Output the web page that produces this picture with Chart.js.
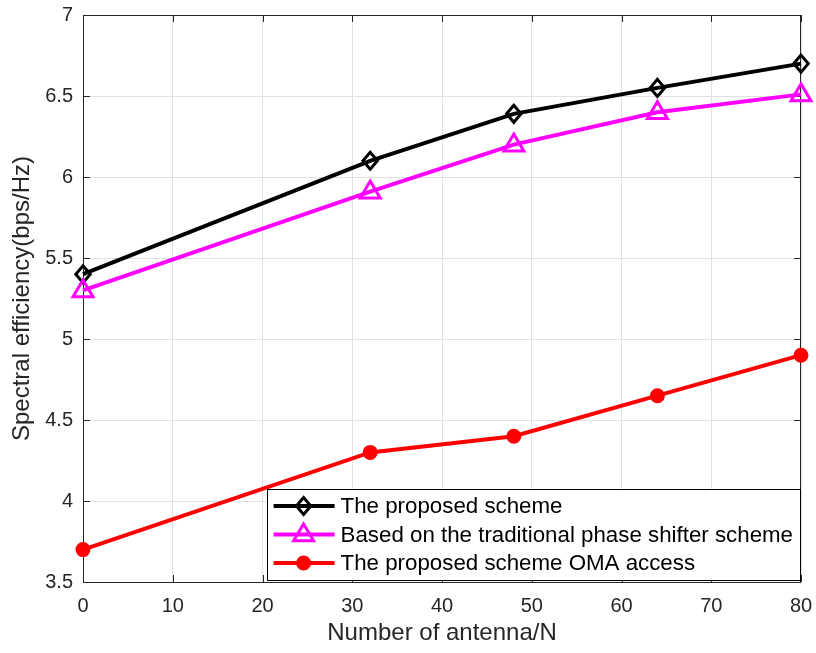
<!DOCTYPE html>
<html>
<head>
<meta charset="utf-8">
<title>Spectral efficiency vs number of antennas</title>
<script src="https://cdn.jsdelivr.net/npm/chart.js@4.4.1/dist/chart.umd.min.js"></script>
<style>
    html, body { margin: 0; padding: 0; background: #ffffff; }
    #chart-wrap { width: 816px; height: 653px; }
</style>
</head>
<body>
<div id="chart-wrap"><canvas id="se-chart" width="816" height="653"></canvas></div>
<script>
// Data
const antennas = [0, 32, 48, 64, 80];
const proposedScheme = [5.40, 6.10, 6.39, 6.55, 6.70];
const phaseShifterScheme = [5.30, 5.91, 6.20, 6.40, 6.51];
const omaAccess = [3.70, 4.30, 4.40, 4.65, 4.90];

const seriesLabels = [
    'The proposed scheme',
    'Based on the traditional phase shifter scheme',
    'The proposed scheme OMA access'
];

const xTicks = [0, 10, 20, 30, 40, 50, 60, 70, 80];
const yTicks = [3.5, 4, 4.5, 5, 5.5, 6, 6.5, 7];

const FONT = '"Liberation Sans", Arial, Helvetica, sans-serif';
const AXIS_COLOR = '#262626';
const GRID_COLOR = '#e1e1e1';

function toPoints(values) {
    return antennas.map((x, i) => ({ x: x, y: values[i] }));
}

// Marker shapes, drawn by hand so the diamond can be narrower than tall
function drawMarker(ctx, style, r, x, y) {
    if (style === 'diamond') {
        ctx.moveTo(x, y - r); ctx.lineTo(x + r * 0.85, y); ctx.lineTo(x, y + r); ctx.lineTo(x - r * 0.85, y); ctx.closePath();
    } else if (style === 'triangle') {
        ctx.moveTo(x, y - r); ctx.lineTo(x + r * 0.95, y + r * 0.6); ctx.lineTo(x - r * 0.95, y + r * 0.6); ctx.closePath();
    } else {
        ctx.arc(x, y, r, 0, Math.PI * 2);
    }
}

function strokeMarker(ctx, ds, x, y) {
    ctx.save();
    ctx.strokeStyle = ds.markerColor;
    ctx.fillStyle = ds.markerColor;
    ctx.lineWidth = ds.markerLine;
    ctx.lineJoin = 'miter';
    ctx.beginPath();
    drawMarker(ctx, ds.markerStyle, ds.markerSize, x, y);
    if (ds.markerFill) ctx.fill();
    ctx.stroke();
    ctx.restore();
}

// Box around the axes plus inward tick marks (MATLAB style)
const boxPlugin = {
    id: 'axesBox',
    beforeDatasetsDraw(chart) {
        const { ctx, chartArea: a, scales } = chart;
        ctx.save();
        ctx.strokeStyle = AXIS_COLOR;
        ctx.lineWidth = 1;
        ctx.strokeRect(a.left + 0.5, a.top + 0.5, a.right - a.left - 1, a.bottom - a.top);
        const tl = 7;
        ctx.beginPath();
        xTicks.forEach(v => {
            const px = Math.round(scales.x.getPixelForValue(v)) + 0.5;
            ctx.moveTo(px, a.bottom); ctx.lineTo(px, a.bottom - tl);
            ctx.moveTo(px, a.top); ctx.lineTo(px, a.top + tl);
        });
        yTicks.forEach(v => {
            const py = Math.round(scales.y.getPixelForValue(v)) + 0.5;
            ctx.moveTo(a.left, py); ctx.lineTo(a.left + tl, py);
            ctx.moveTo(a.right, py); ctx.lineTo(a.right - tl, py);
        });
        ctx.stroke();
        ctx.restore();
    },
    // markers on top of the lines
    afterDatasetsDraw(chart) {
        const { ctx } = chart;
        chart.data.datasets.forEach((ds, i) => {
            chart.getDatasetMeta(i).data.forEach(pt => strokeMarker(ctx, ds, pt.x, pt.y));
        });
    }
};

// Legend box inside the lower right corner of the plot
const legendPlugin = {
    id: 'insideLegend',
    afterDraw(chart) {
        const { ctx, chartArea: a } = chart;
        const sets = chart.data.datasets;
        ctx.save();
        ctx.font = '22.3px ' + FONT;
        let maxW = 0;
        sets.forEach(ds => { maxW = Math.max(maxW, ctx.measureText(ds.label).width); });
        const textOffset = 74;
        const w = textOffset + maxW + 8;
        const rowH = 28.5;
        const h = 91;
        const right = a.right;
        const left = right - w;
        const bottom = a.bottom - 2;
        const top = bottom - h;

        ctx.fillStyle = '#ffffff';
        ctx.fillRect(left, top, w, h);
        ctx.strokeStyle = '#000000';
        ctx.lineWidth = 1;
        ctx.strokeRect(Math.round(left) + 0.5, Math.round(top) + 0.5, Math.round(w) - 1, Math.round(h));

        sets.forEach((ds, i) => {
            const cy = top + 17 + i * rowH;
            ctx.strokeStyle = ds.borderColor;
            ctx.lineWidth = ds.borderWidth;
            ctx.beginPath();
            ctx.moveTo(left + 7, cy);
            ctx.lineTo(left + 68, cy);
            ctx.stroke();
            strokeMarker(ctx, ds, left + 37, cy);

            ctx.fillStyle = '#000000';
            ctx.textBaseline = 'middle';
            ctx.textAlign = 'left';
            ctx.fillText(ds.label, left + textOffset, cy + 1);
        });
        ctx.restore();
    }
};

function makeDataset(label, values, color, style, size, fill) {
    return {
        label: label,
        data: toPoints(values),
        borderColor: color,
        backgroundColor: color,
        borderWidth: 4,
        pointRadius: 0,
        pointHoverRadius: 0,
        markerStyle: style,
        markerSize: size,
        markerColor: color,
        markerFill: fill,
        markerLine: 3,
        tension: 0,
        clip: false
    };
}

const ctx = document.getElementById('se-chart');
new Chart(ctx, {
    type: 'line',
    data: {
        datasets: [
            makeDataset(seriesLabels[0], proposedScheme, '#000000', 'diamond', 8.5, false),
            makeDataset(seriesLabels[1], phaseShifterScheme, '#ff00ff', 'triangle', 10.5, false),
            makeDataset(seriesLabels[2], omaAccess, '#ff0000', 'circle', 6, true)
        ]
    },
    options: {
        responsive: false,
        animation: false,
        layout: { padding: { top: 15, right: 15, left: 0, bottom: 0 } },
        plugins: {
            legend: { display: false },
            tooltip: { enabled: false }
        },
        scales: {
            x: {
                type: 'linear',
                min: 0,
                max: 80,
                afterFit: scale => {
                    scale.height = 71;
                    scale.paddingLeft = 0;
                    scale.paddingRight = 0;
                },
                afterBuildTicks: scale => { scale.ticks = xTicks.map(v => ({ value: v })); },
                grid: { color: GRID_COLOR, drawTicks: false },
                border: { display: false },
                ticks: {
                    padding: 12,
                    color: AXIS_COLOR,
                    font: { family: FONT, size: 20 },
                    maxRotation: 0,
                    callback: v => String(v)
                },
                title: {
                    display: true,
                    text: 'Number of antenna/N',
                    color: AXIS_COLOR,
                    font: { family: FONT, size: 24 },
                    padding: { top: 4, bottom: 5 }
                }
            },
            y: {
                type: 'linear',
                min: 3.5,
                max: 7,
                afterFit: scale => {
                    scale.width = 83;
                    scale.paddingTop = 0;
                    scale.paddingBottom = 0;
                },
                afterBuildTicks: scale => { scale.ticks = yTicks.map(v => ({ value: v })); },
                grid: { color: GRID_COLOR, drawTicks: false },
                border: { display: false },
                ticks: {
                    padding: 10,
                    color: AXIS_COLOR,
                    font: { family: FONT, size: 20 },
                    callback: v => String(v)
                },
                title: {
                    display: true,
                    text: 'Spectral efficiency(bps/Hz)',
                    color: AXIS_COLOR,
                    font: { family: FONT, size: 24 },
                    padding: { top: 8, bottom: 4 }
                }
            }
        }
    },
    plugins: [boxPlugin, legendPlugin]
});
</script>
</body>
</html>
